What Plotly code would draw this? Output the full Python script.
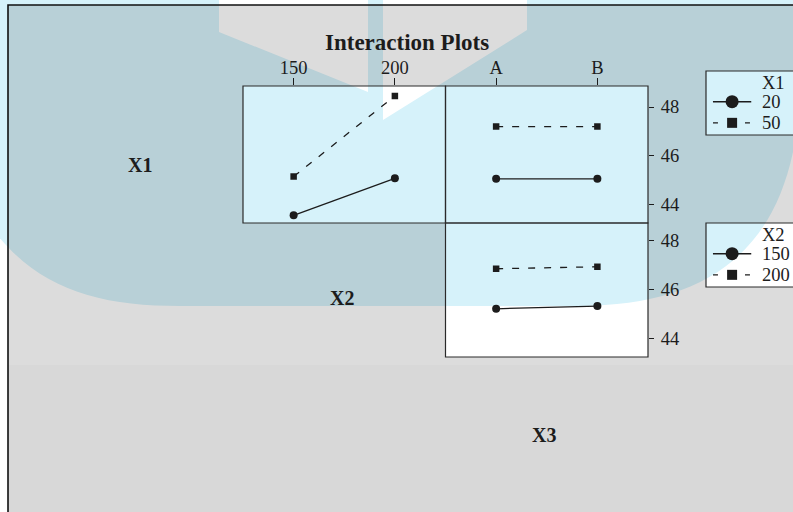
import plotly.graph_objects as go

W, H = 793, 512

# factor levels
x1_levels = ["20", "50"]
x2_levels = ["150", "200"]
x3_levels = ["A", "B"]

# mean response for each interaction panel
x1_x2_at_20 = [43.58, 45.09]
x1_x2_at_50 = [45.16, 48.45]
x1_x3_at_20 = [45.07, 45.07]
x1_x3_at_50 = [47.20, 47.20]
x2_x3_at_150 = [45.22, 45.33]
x2_x3_at_200 = [46.84, 46.92]

y_ticks = [44, 46, 48]

FONT = "Liberation Serif"
INK = "#1c1c1c"
LIGHT_BLUE = "#d6f2fa"


def px(x):
    return x / W


def py(y):
    return 1 - y / H


def rect_path(x0, y0, x1, y1):
    return f"M{px(x0)},{py(y0)} L{px(x1)},{py(y0)} L{px(x1)},{py(y1)} L{px(x0)},{py(y1)} Z "


fig = go.Figure()

solid = dict(color=INK, width=1.3)
dashed = dict(color=INK, width=1.3, dash="7px,9px")
circ = dict(symbol="circle", size=8, color=INK)
sq = dict(symbol="square", size=6.5, color=INK)

# panel X1 x X2
fig.add_trace(go.Scatter(x=x2_levels, y=x1_x2_at_20, mode="lines+markers", line=solid, marker=circ, xaxis="x", yaxis="y"))
fig.add_trace(go.Scatter(x=x2_levels, y=x1_x2_at_50, mode="lines+markers", line=dashed, marker=sq, xaxis="x", yaxis="y"))
# panel X1 x X3
fig.add_trace(go.Scatter(x=x3_levels, y=x1_x3_at_20, mode="lines+markers", line=solid, marker=circ, xaxis="x2", yaxis="y2"))
fig.add_trace(go.Scatter(x=x3_levels, y=x1_x3_at_50, mode="lines+markers", line=dashed, marker=sq, xaxis="x2", yaxis="y2"))
# panel X2 x X3
fig.add_trace(go.Scatter(x=x3_levels, y=x2_x3_at_150, mode="lines+markers", line=solid, marker=circ, xaxis="x3", yaxis="y3"))
fig.add_trace(go.Scatter(x=x3_levels, y=x2_x3_at_200, mode="lines+markers", line=dashed, marker=sq, xaxis="x3", yaxis="y3"))

# legend keys (small axes at the right): line sample + marker in its middle
key_x = [0.08, 0.52]
key_mid = [0.30]
for ax in ("4", "5"):
    fig.add_trace(go.Scatter(x=key_x, y=[0.52, 0.52], mode="lines", line=dict(color=INK, width=1.4),
                             xaxis="x" + ax, yaxis="y" + ax))
    fig.add_trace(go.Scatter(x=key_mid, y=[0.52], mode="markers",
                             marker=dict(symbol="circle", size=13, color=INK, line=dict(width=0)),
                             xaxis="x" + ax, yaxis="y" + ax))
    fig.add_trace(go.Scatter(x=key_x, y=[0.19, 0.19], mode="lines",
                             line=dict(color=INK, width=1.4, dash="5px,11px"),
                             xaxis="x" + ax, yaxis="y" + ax))
    fig.add_trace(go.Scatter(x=key_mid, y=[0.19], mode="markers",
                             marker=dict(symbol="square", size=10, color=INK, line=dict(width=0)),
                             xaxis="x" + ax, yaxis="y" + ax))

tick_font = dict(family=FONT, size=18.5, color=INK)
base = dict(showgrid=False, zeroline=False, showline=False, fixedrange=True)

fig.update_layout(
    width=W, height=H,
    margin=dict(l=0, r=0, t=0, b=0),
    paper_bgcolor="white",
    plot_bgcolor="rgba(0,0,0,0)",
    showlegend=False,
    hovermode=False,
    font=dict(family=FONT, color=INK),
    xaxis=dict(base, domain=[px(243), px(445.5)], anchor="y", type="category", categoryarray=x2_levels,
               range=[-0.5, 1.5], side="top", ticks="outside", ticklen=7, tickcolor=INK, tickfont=tick_font,
               ticklabelstandoff=-3),
    yaxis=dict(base, domain=[py(223), py(86)], anchor="x", range=[43.265, 48.857], showticklabels=False),
    xaxis2=dict(base, domain=[px(445.5), px(648)], anchor="y2", type="category", categoryarray=x3_levels,
                range=[-0.5, 1.5], side="top", ticks="outside", ticklen=7, tickcolor=INK, tickfont=tick_font,
                ticklabelstandoff=-3),
    yaxis2=dict(base, domain=[py(223), py(86)], anchor="x2", range=[43.265, 48.857], side="right",
                tickvals=y_ticks, ticks="outside", ticklen=5, tickcolor=INK, tickfont=tick_font,
                ticklabelstandoff=3),
    xaxis3=dict(base, domain=[px(445.5), px(648)], anchor="y3", type="category", categoryarray=x3_levels,
                range=[-0.5, 1.5], showticklabels=False),
    yaxis3=dict(base, domain=[py(357), py(223)], anchor="x3", range=[43.27, 48.69], side="right",
                tickvals=y_ticks, ticks="outside", ticklen=5, tickcolor=INK, tickfont=tick_font,
                ticklabelstandoff=3),
    xaxis4=dict(base, domain=[px(706), 1], anchor="y4", range=[0, 1], visible=False),
    yaxis4=dict(base, domain=[py(135), py(71)], anchor="x4", range=[0, 1], visible=False),
    xaxis5=dict(base, domain=[px(706), 1], anchor="y5", range=[0, 1], visible=False),
    yaxis5=dict(base, domain=[py(287), py(223)], anchor="x5", range=[0, 1], visible=False),
)

shapes = []
# watermark, light version (seen outside the frame and inside the panels)
logo = (f"M{px(-5)},{py(-5)} L{px(800)},{py(-5)} L{px(800)},{py(100)} "
        f"C{px(790)},{py(250)} {px(710)},{py(305)} {px(580)},{py(306)} "
        f"L{px(180)},{py(306)} C{px(100)},{py(306)} {px(40)},{py(290)} {px(-5)},{py(232)} Z")
shapes.append(dict(type="path", path=logo, xref="paper", yref="paper", fillcolor=LIGHT_BLUE,
                   line=dict(width=0), layer="below"))
for poly in ([(219, -5), (368, -5), (368, 92), (219, 32)], [(383, -5), (527, -5), (527, 30), (383, 120)]):
    p = "M" + " L".join(f"{px(a)},{py(b)}" for a, b in poly) + " Z"
    shapes.append(dict(type="path", path=p, xref="paper", yref="paper", fillcolor="white",
                       line=dict(width=0), layer="below"))

# darker veil inside the outer frame, with holes at the panels and keys
holes = [(243, 86, 445.5, 223), (445.5, 86, 648, 223), (445.5, 223, 648, 357),
         (706, 71, 810, 135), (706, 223, 810, 287)]
veil = rect_path(8, 5, 810, 520) + "".join(rect_path(*h) for h in holes)
shapes.append(dict(type="path", path=veil, xref="paper", yref="paper", fillcolor="rgba(0,0,0,0.137)",
                   fillrule="evenodd", line=dict(width=0), layer="below"))
shapes.append(dict(type="rect", xref="paper", yref="paper", x0=px(8), x1=px(810), y0=py(365), y1=py(520),
                   fillcolor="rgba(0,0,0,0.014)", line=dict(width=0), layer="below"))

# frames
for x0, y0, x1, y1 in holes:
    shapes.append(dict(type="rect", xref="paper", yref="paper", x0=px(x0), x1=px(x1), y0=py(y0), y1=py(y1),
                       line=dict(color="#2a2a2a", width=1.2)))
shapes.append(dict(type="rect", xref="paper", yref="paper", x0=px(8), x1=px(810), y0=py(5), y1=py(520),
                   line=dict(color="#111", width=1.6)))
fig.update_layout(shapes=shapes)

# titles, diagonal labels and key texts
ann = [
    dict(text="<b>Interaction Plots</b>", x=px(407.5), y=py(42), size=23),
    dict(text="<b>X1</b>", x=px(140), y=py(165), size=20),
    dict(text="<b>X2</b>", x=px(342), y=py(298), size=20),
    dict(text="<b>X3</b>", x=px(544), y=py(435), size=20),
]
for a in ann:
    fig.add_annotation(text=a["text"], x=a["x"], y=a["y"], xref="paper", yref="paper", showarrow=False,
                       xanchor="center", yanchor="middle", font=dict(family=FONT, size=a["size"], color=INK))

for name, levels, top in (("X1", x1_levels, 71), ("X2", x2_levels, 223)):
    fig.add_annotation(text=name, x=px(773), y=py(top + 12), xref="paper", yref="paper", showarrow=False,
                       xanchor="center", yanchor="middle", font=tick_font)
    for i, lv in enumerate(levels):
        fig.add_annotation(text=lv, x=px(760), y=py(top + 31 + 21 * i), xref="paper", yref="paper",
                           showarrow=False, xanchor="left", yanchor="middle", font=tick_font)

# the page's default body margin would shift the figure by 8px
fig.write_html("out.html", config={"displayModeBar": False},
               post_script="document.body.style.margin='0px';")
